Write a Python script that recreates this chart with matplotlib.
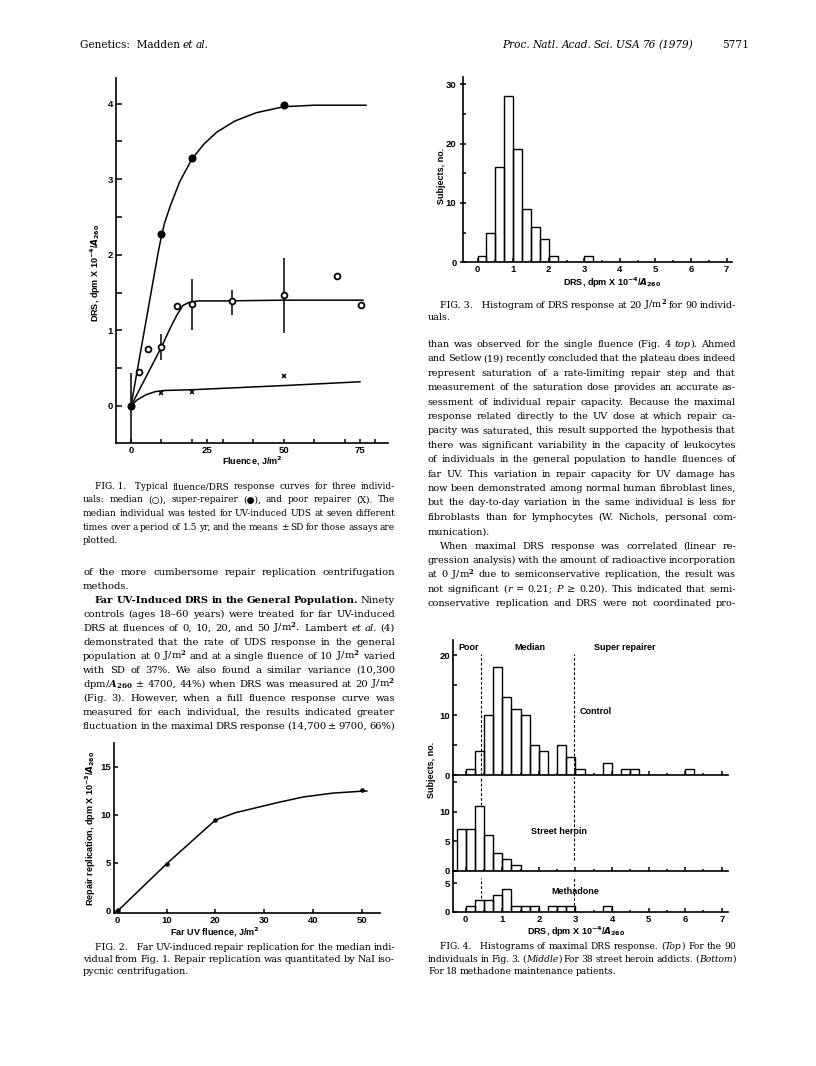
import matplotlib
matplotlib.use('Agg')
import matplotlib.pyplot as plt
from matplotlib.font_manager import FontProperties

W, H = 816, 1066
plt.rcParams['font.family'] = ['Liberation Sans', 'DejaVu Sans']
plt.rcParams['font.weight'] = 'bold'

# ---------------- Fig. 1: fluence / DRS response ----------------
super_x = [0, 10, 20, 50]
super_y = [0.0, 2.27, 3.28, 3.98]
super_fit_x = [0, 9, 10, 11, 13, 16, 20, 24, 28, 34, 41, 50, 60, 77]
super_fit_y = [0, 2.05, 2.25, 2.42, 2.66, 2.97, 3.27, 3.47, 3.62, 3.77, 3.88, 3.96, 3.98, 3.98]

median_x = [2.5, 5.5, 10, 15, 20, 33, 50, 67.5, 75.5]
median_y = [0.45, 0.75, 0.78, 1.32, 1.35, 1.39, 1.47, 1.72, 1.33]
median_err_x = [0, 10, 20, 33, 50]
median_err_lo = [-0.49, 0.61, 1.01, 1.21, 0.97]
median_err_hi = [0.44, 0.95, 1.68, 1.54, 1.96]
median_fit_x = [0, 5, 10, 12.5, 15, 17, 19, 22, 30, 50, 76]
median_fit_y = [0, 0.39, 0.78, 1.0, 1.2, 1.33, 1.37, 1.39, 1.39, 1.40, 1.40]

poor_x = [10, 20, 50]
poor_y = [0.17, 0.19, 0.39]
poor_fit_x = [0, 2, 5, 8, 11, 20, 50, 75]
poor_fit_y = [0, 0.08, 0.15, 0.19, 0.205, 0.215, 0.27, 0.32]

# ---------------- Fig. 2: repair replication ----------------
rr_x = [0, 10, 20, 50]
rr_y = [0.1, 4.9, 9.5, 12.6]
rr_fit_x = [0, 10, 20, 24, 28.5, 33, 38, 44, 50, 51]
rr_fit_y = [0, 4.9, 9.45, 10.2, 10.75, 11.3, 11.85, 12.25, 12.45, 12.47]

# ---------------- Fig. 3: histogram at 20 J/m2 ----------------
f3_edges = [0, 0.25, 0.5, 0.75, 1.0, 1.25, 1.5, 1.75, 2.0, 3.0]
f3_counts = [1, 5, 16, 28, 19, 9, 6, 4, 1, 1]

# ---------------- Fig. 4: maximal DRS histograms ----------------
ctrl_edges = [0, 0.25, 0.5, 0.75, 1.0, 1.25, 1.5, 1.75, 2.0, 2.5, 2.75, 3.0, 3.75, 4.25, 4.5, 6.0]
ctrl_counts = [1, 4, 10, 18, 13, 11, 10, 5, 4, 5, 3, 1, 2, 1, 1, 1]
heroin_edges = [-0.25, 0, 0.25, 0.5, 0.75, 1.0, 1.25]
heroin_counts = [7, 7, 11, 6, 3, 2, 1]
metha_edges = [0, 0.25, 0.5, 0.75, 1.0, 1.25, 1.5, 1.75, 2.25, 2.5, 2.75, 3.75]
metha_counts = [1, 2, 2, 3, 4, 1, 1, 1, 1, 1, 1, 1]
cut_poor, cut_super = 0.42, 2.95

fig = plt.figure(figsize=(W / 100, H / 100), dpi=100)
renderer = fig.canvas.get_renderer()

tx = fig.add_axes([0, 0, 1, 1])
tx.set_xlim(0, W)
tx.set_ylim(H, 0)
tx.axis('off')


def add_ax(l, t, r, b):
    ax = fig.add_axes([l / W, 1 - b / H, (r - l) / W, (b - t) / H])
    for s in ('top', 'right'):
        ax.spines[s].set_visible(False)
    for s in ('left', 'bottom'):
        ax.spines[s].set_linewidth(1.2)
    ax.patch.set_alpha(0)
    ax.tick_params(which='both', direction='in', width=1.1, labelsize=6.8, pad=2.2)
    return ax


LAB = dict(fontsize=6.5, fontweight='bold', math_fontfamily='dejavusans')
DRS_LAB = 'DRS, dpm X 10$^{-4}$/$A_{260}$'

# ---- Fig. 1
ax1 = add_ax(116, 78, 388, 443)
ax1.set_xlim(-4.9, 84.2)
ax1.set_ylim(-0.49, 4.34)
ax1.plot(super_fit_x, super_fit_y, color='black', lw=1.1)
ax1.plot(median_fit_x, median_fit_y, color='black', lw=1.1)
ax1.plot(poor_fit_x, poor_fit_y, color='black', lw=1.1)
ax1.vlines(median_err_x, median_err_lo, median_err_hi, color='black', lw=1.1)
ax1.plot(median_x, median_y, 'o', mfc='white', mec='black', ms=4.2, mew=1.3)
ax1.plot(super_x, super_y, 'o', color='black', ms=4.8)
ax1.plot(poor_x, poor_y, 'x', color='black', ms=3.2, mew=1.1)
ax1.set_xticks([0, 25, 50, 75])
ax1.set_xticks([10, 20, 30, 40, 60, 70, 80], minor=True)
ax1.set_yticks([0, 1, 2, 3, 4])
ax1.set_yticks([0.5, 1.5, 2.5, 3.5], minor=True)
ax1.tick_params(axis='x', which='both', length=3.2)
ax1.tick_params(axis='y', which='both', length=4.0)
tx.text(252, 461, 'Fluence, J/m$^2$', ha='center', va='center', **LAB)
tx.text(96, 273, DRS_LAB, ha='center', va='center', rotation=90, **LAB)

# ---- Fig. 2
ax2 = add_ax(114, 743, 380, 912.7)
ax2.set_xlim(-0.76, 53.7)
ax2.set_ylim(-0.18, 17.46)
ax2.plot(rr_fit_x, rr_fit_y, color='black', lw=1.1)
ax2.plot(rr_x, rr_y, 'o', color='black', ms=2.3)
ax2.set_xticks([0, 10, 20, 30, 40, 50])
ax2.set_yticks([0, 5, 10, 15])
ax2.tick_params(which='both', length=3.0)
tx.text(215, 932, 'Far UV fluence, J/m$^2$', ha='center', va='center', **LAB)
tx.text(91, 828, 'Repair replication, dpm X 10$^{-3}$/$A_{260}$', ha='center', va='center',
        rotation=90, **LAB)

# ---- Fig. 3
ax3 = add_ax(463, 77, 732, 262.3)
ax3.set_xlim(-0.41, 7.15)
ax3.set_ylim(0, 31.2)
ax3.bar(f3_edges, f3_counts, width=0.25, align='edge', fill=False, edgecolor='black', lw=1.0)
ax3.set_xticks(range(8))
ax3.set_xticks([0.5 + i for i in range(7)], minor=True)
ax3.set_yticks([0, 10, 20, 30])
ax3.set_yticks([5, 15, 25], minor=True)
ax3.tick_params(axis='x', which='major', length=3.0)
ax3.tick_params(axis='x', which='minor', length=1.5)
ax3.tick_params(axis='y', which='major', direction='inout', length=5)
ax3.tick_params(axis='y', which='minor', length=2.5)
tx.text(612, 283, DRS_LAB, ha='center', va='center', **LAB)
tx.text(441, 176, 'Subjects, no.', ha='center', va='center', rotation=90, **LAB)

# ---- Fig. 4
panels = [
    (640, 775.3, 22.5, ctrl_edges, ctrl_counts, [0, 10, 20], [5, 15]),
    (775.3, 871, 16.1, heroin_edges, heroin_counts, [0, 5, 10], [15]),
    (871, 911.7, 7.2, metha_edges, metha_counts, [0, 5], []),
]
dash_spans = [((0, 0.9), (0, 0.9)), ((0.69, 0.98), (0.11, 0.98)), ((0.34, 0.84), (0.04, 0.84))]
for i, (top, bot, ytop, edges, counts, yt, ymin_t) in enumerate(panels):
    ax = add_ax(453.3, top, 728, bot)
    ax.set_xlim(-0.34, 7.17)
    ax.set_ylim(0, ytop)
    ax.bar(edges, counts, width=0.25, align='edge', fill=False, edgecolor='black', lw=1.0)
    ax.set_xticks(range(8))
    ax.set_xticks([0.5 + k for k in range(7)], minor=True)
    ax.set_yticks(yt)
    ax.set_yticks(ymin_t, minor=True)
    ax.tick_params(axis='x', which='major', length=3.0)
    ax.tick_params(axis='x', which='minor', length=1.3)
    ax.tick_params(axis='y', which='both', length=3.0)
    if i < 2:
        ax.tick_params(axis='x', labelbottom=False)
    (a0, a1), (b0, b1) = dash_spans[i]
    ax.axvline(cut_poor, a0, a1, color='black', lw=0.8, ls=(0, (2.5, 1.8)))
    ax.axvline(cut_super, b0, b1, color='black', lw=0.8, ls=(0, (2.5, 1.8)))

tx.text(468.5, 647, 'Poor', ha='center', va='center', **LAB)
tx.text(529.5, 647, 'Median', ha='center', va='center', **LAB)
tx.text(624.5, 647, 'Super repairer', ha='center', va='center', **LAB)
tx.text(596, 712, 'Control', ha='center', va='center', **LAB)
tx.text(559, 832, 'Street heroin', ha='center', va='center', **LAB)
tx.text(575.5, 891, 'Methadone', ha='center', va='center', **LAB)
tx.text(576, 932, DRS_LAB, ha='center', va='center', **LAB)
tx.text(431, 770, 'Subjects, no.', ha='center', va='center', rotation=90, **LAB)

# ---------------- running text ----------------
SERIF = ['DejaVu Serif', 'DejaVu Sans']


def make_fp(st, size):
    fp = FontProperties(family=SERIF, size=size,
                        style='italic' if st == '~' else 'normal',
                        weight='bold' if st == '#' else 'normal')
    fp.set_math_fontfamily('dejavuserif')
    return fp


def parse(word):
    segs = []
    for s in word.split('|'):
        st = ''
        if s[:1] in ('~', '#') and len(s) > 1:
            st, s = s[0], s[1:]
        segs.append((st, s))
    return segs


def measure(segs, size):
    out = []
    for st, s in segs:
        w, h, d = renderer.get_text_width_height_descent(s, make_fp(st, size), ismath=('$' in s))
        out.append(w)
    return out


def natural_width(line, size):
    words = [parse(w) for w in line.split(' ')]
    total = sum(sum(measure(w, size)) for w in words)
    return total + 0.22 * size * 100 / 72 * (len(words) - 1)


def put_line(x0, x1, y, line, size, justify=True):
    words = [parse(w) for w in line.split(' ')]
    n = len(words)
    widths = [measure(w, size) for w in words]
    total = sum(sum(w) for w in widths)
    sp = 0.24 * size * 100 / 72
    gap = (x1 - x0 - total) / (n - 1) if (justify and n > 1) else sp
    x = x0
    for segs, ws in zip(words, widths):
        for (st, s), w in zip(segs, ws):
            tx.text(x, y, s, fontproperties=make_fp(st, size), va='baseline', ha='left')
            x += w
        x += gap


def put_block(x0, x1, y0, step, lines, size, indent=12):
    # one font size for the whole block, small enough for every line to fit
    for line, ind, just in lines:
        room = x1 - x0 - (indent if ind else 0)
        nat = natural_width(line, size)
        if nat > room:
            size = size * room / nat
    for k, (line, ind, just) in enumerate(lines):
        put_line(x0 + (indent if ind else 0), x1, y0 + k * step, line, size, just)


NB = '\u00a0'

header_l = 'Genetics:' + NB + NB + 'Madden ~et ~al.'
header_r = '~Proc. ~Natl. ~Acad. ~Sci. ~USA ~76 ~(1979)'
put_line(80, 400, 48, header_l, 7.6, justify=False)
put_line(502, 700, 48, header_r, 7.6, justify=False)
put_line(722, 760, 48, '5771', 7.6, justify=False)

cap1 = [
    ('FIG.' + NB + '1.' + NB * 3 + 'Typical fluence/DRS response curves for three individ-', True, True),
    ('uals: median (○), super-repairer (●), and poor repairer (X). The', False, True),
    ('median individual was tested for UV-induced UDS at seven different', False, True),
    ('times over a period of 1.5 yr, and the means ± SD for those assays are', False, True),
    ('plotted.', False, False),
]
put_block(83, 395, 489, 13.5, cap1, 7.0)

body_l = [
    ('of the more cumbersome repair replication centrifugation', False, True),
    ('methods.', False, False),
    ('#Far #UV-Induced #DRS #in #the #General #Population. Ninety', True, True),
    ('controls (ages 18–60 years) were treated for far UV-induced', False, True),
    ('DRS at fluences of 0, 10, 20, and 50 J/m$^2$. Lambert ~et ~al. (4)', False, True),
    ('demonstrated that the rate of UDS response in the general', False, True),
    ('population at 0 J/m$^2$ and at a single fluence of 10 J/m$^2$ varied', False, True),
    ('with SD of 37%. We also found a similar variance (10,300', False, True),
    ('dpm/$A_{260}$ ± 4700, 44%) when DRS was measured at 20 J/m$^2$', False, True),
    ('(Fig. 3). However, when a full fluence response curve was', False, True),
    ('measured for each individual, the results indicated greater', False, True),
    ('fluctuation in the maximal DRS response (14,700 ± 9700, 66%)', False, True),
]
put_block(83, 395, 575, 14.0, body_l, 8.0)

cap2 = [
    ('FIG.' + NB + '2.' + NB * 3 + 'Far UV-induced repair replication for the median indi-', True, True),
    ('vidual from Fig. 1. Repair replication was quantitated by NaI iso-', False, True),
    ('pycnic centrifugation.', False, False),
]
put_block(83, 395, 949.5, 12.0, cap2, 7.0)

cap3 = [
    ('FIG.' + NB + '3.' + NB * 3 + 'Histogram of DRS response at 20 J/m$^2$ for 90 individ-', True, True),
    ('uals.', False, False),
]
put_block(428, 736, 307.5, 13.0, cap3, 7.0)

body_r = [
    ('than was observed for the single fluence (Fig. 4 ~top|). Ahmed', False, True),
    ('and Setlow (19) recently concluded that the plateau does indeed', False, True),
    ('represent saturation of a rate-limiting repair step and that', False, True),
    ('measurement of the saturation dose provides an accurate as-', False, True),
    ('sessment of individual repair capacity. Because the maximal', False, True),
    ('response related directly to the UV dose at which repair ca-', False, True),
    ('pacity was saturated, this result supported the hypothesis that', False, True),
    ('there was significant variability in the capacity of leukocytes', False, True),
    ('of individuals in the general population to handle fluences of', False, True),
    ('far UV. This variation in repair capacity for UV damage has', False, True),
    ('now been demonstrated among normal human fibroblast lines,', False, True),
    ('but the day-to-day variation in the same individual is less for', False, True),
    ('fibroblasts than for lymphocytes (W. Nichols, personal com-', False, True),
    ('munication).', False, False),
    ('When maximal DRS response was correlated (linear re-', True, True),
    ('gression analysis) with the amount of radioactive incorporation', False, True),
    ('at 0 J/m$^2$ due to semiconservative replication, the result was', False, True),
    ('not significant (|~r = 0.21; ~P ≥ 0.20). This indicated that semi-', False, True),
    ('conservative replication and DRS were not coordinated pro-', False, True),
]
put_block(428, 736, 347, 14.4, body_r, 8.0)

cap4 = [
    ('FIG.' + NB + '4.' + NB * 3 + 'Histograms of maximal DRS response. (|~Top|) For the 90', True, True),
    ('individuals in Fig. 3. (|~Middle|) For 38 street heroin addicts. (|~Bottom|)', False, True),
    ('For 18 methadone maintenance patients.', False, False),
]
put_block(428, 736, 949, 12.5, cap4, 7.0)

fig.savefig('out.png', dpi=100, facecolor='white')
